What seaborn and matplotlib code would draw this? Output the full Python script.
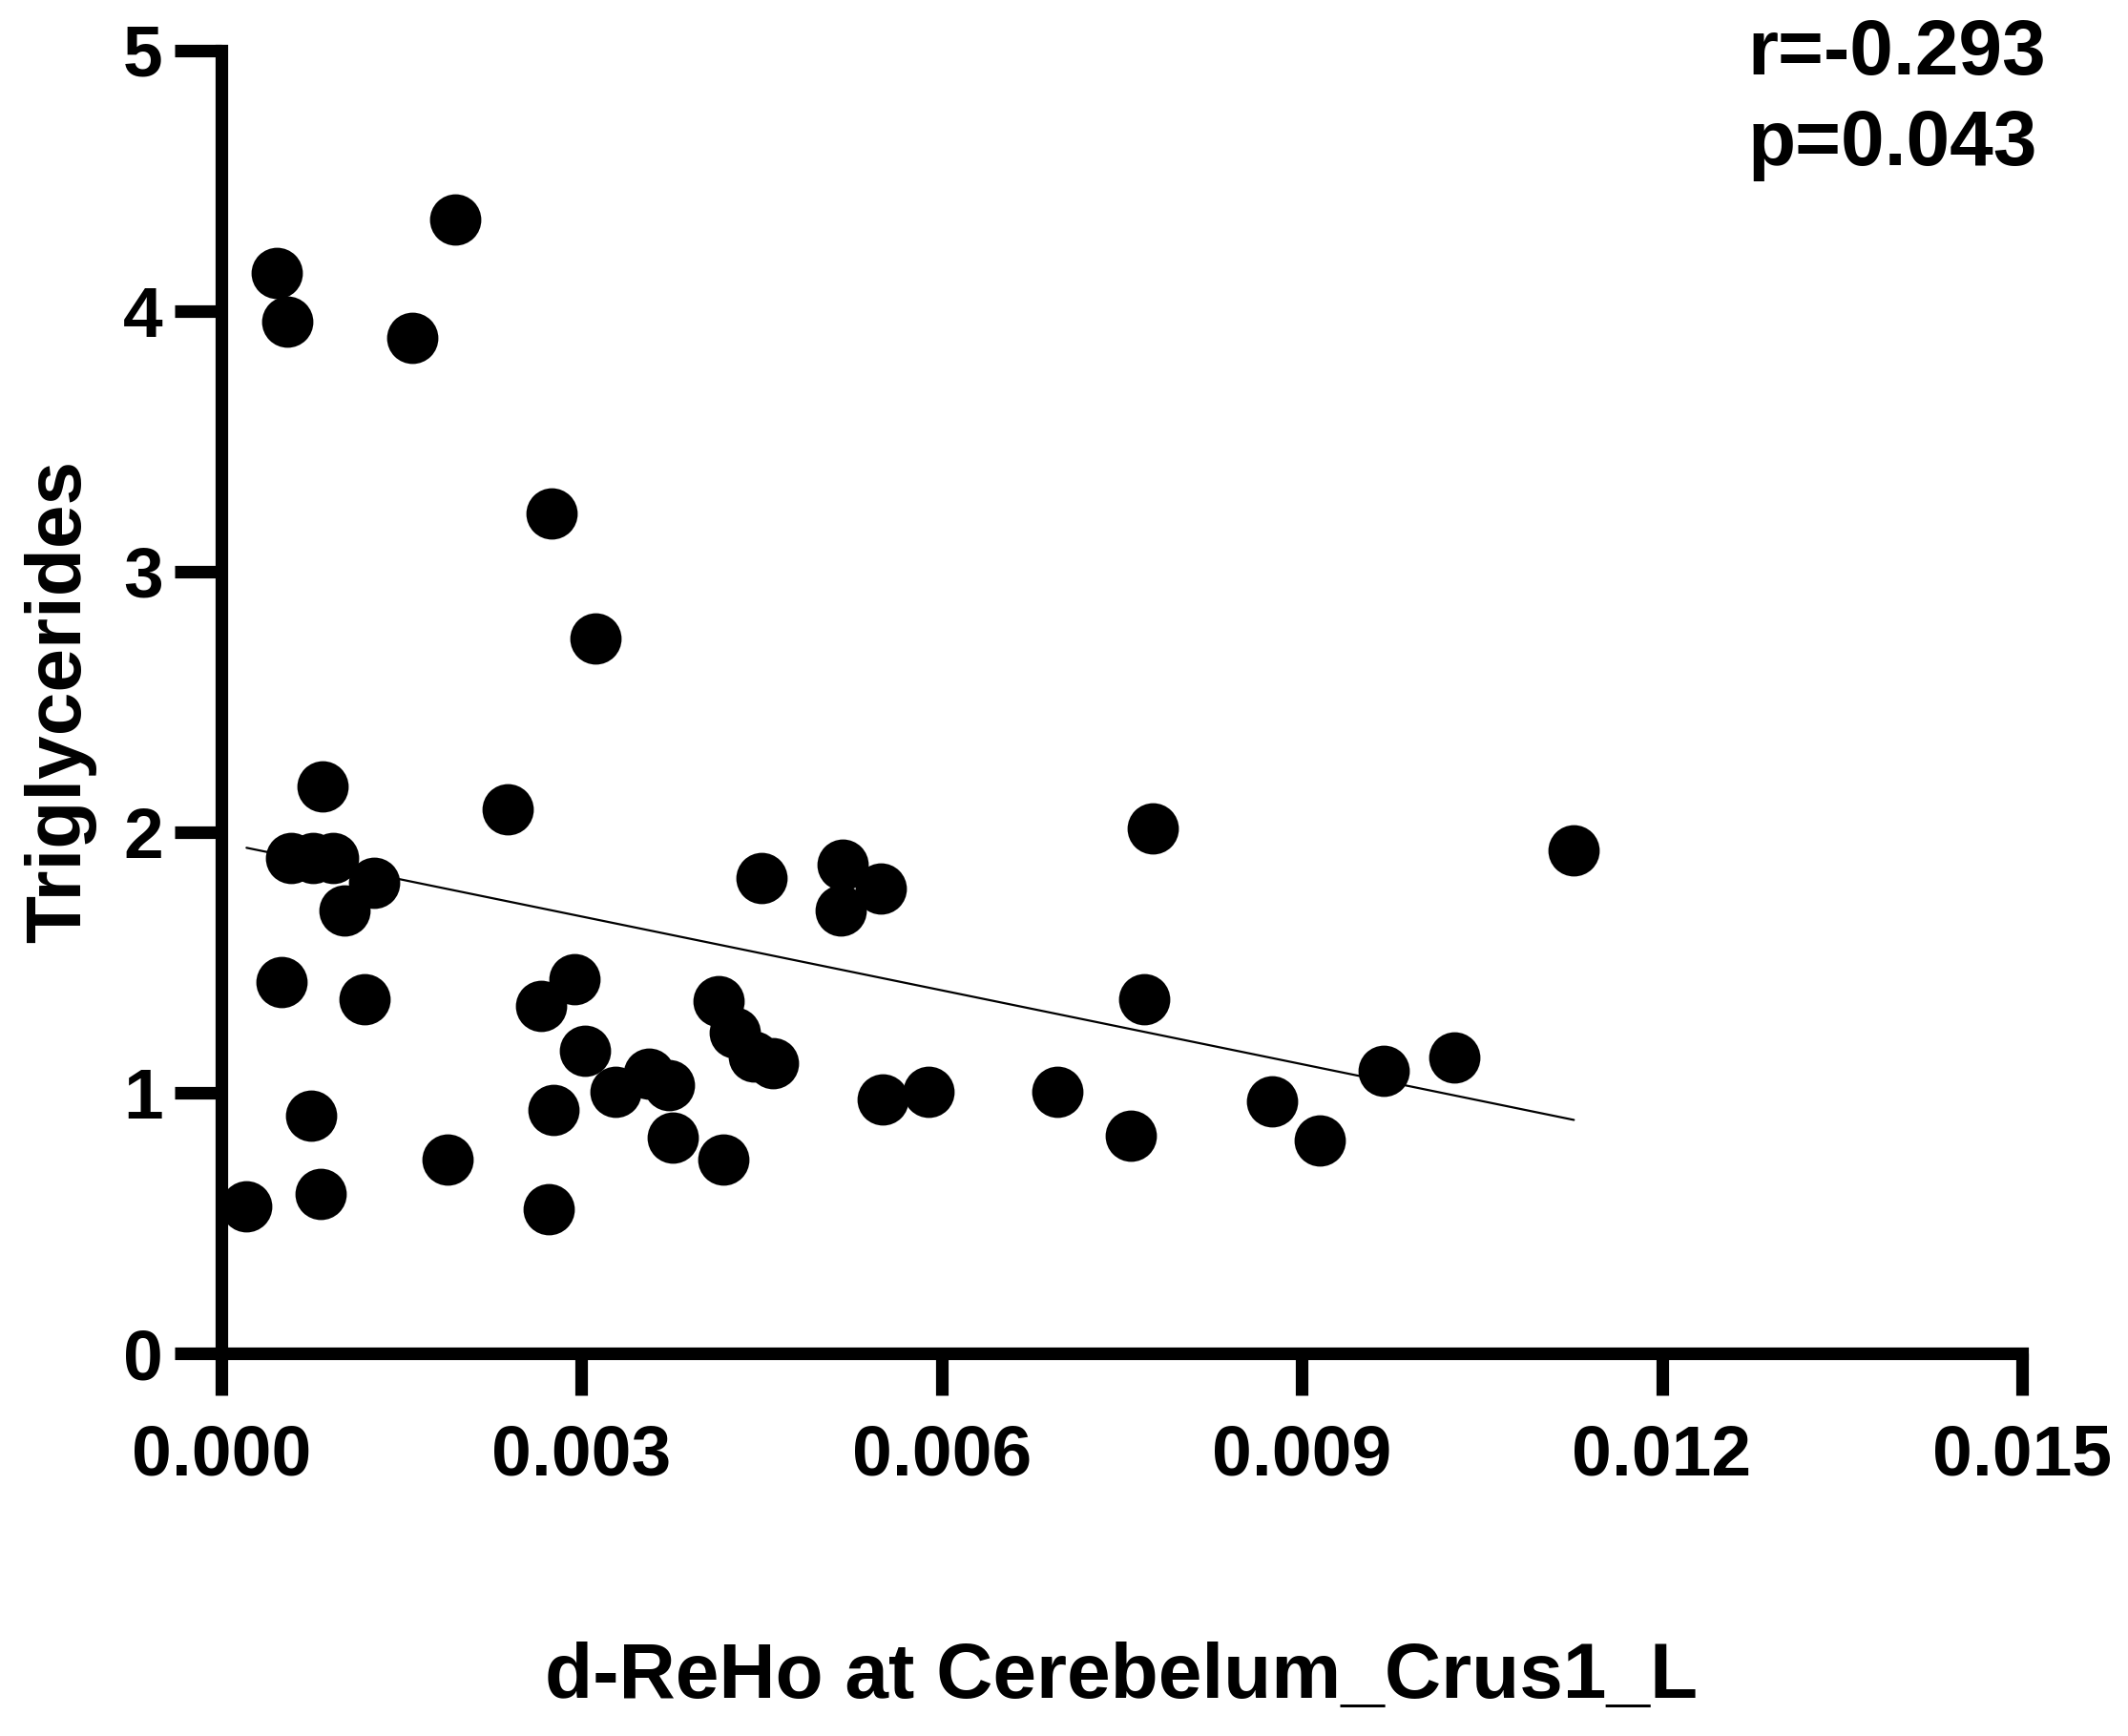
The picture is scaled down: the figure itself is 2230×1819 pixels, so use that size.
import numpy as np
import pandas as pd
import matplotlib
matplotlib.use("Agg")
import matplotlib.pyplot as plt
import seaborn as sns

sns.set_style("ticks")
plt.rcParams['font.family'] = ['Liberation Sans', 'DejaVu Sans']
plt.rcParams['text.color'] = 'black'
plt.rcParams['axes.labelcolor'] = 'black'

# d-ReHo values
dreho = [0.000461, 0.000546, 0.001947, 0.001591, 0.00275, 0.003117, 0.00084, 0.002383,
         0.000578, 0.00076, 0.000927, 0.00103, 0.00127, 0.0005, 0.00119, 0.000745,
         0.000826, 0.00021, 0.001885, 0.00273, 0.00277, 0.00266, 0.00294, 0.00303,
         0.00328, 0.00356, 0.00373, 0.00376, 0.00418, 0.004145, 0.004277, 0.004435,
         0.004594, 0.0045, 0.005177, 0.005494, 0.005163, 0.005506, 0.005889, 0.006965,
         0.00776, 0.00769, 0.00758, 0.008755, 0.00915, 0.009685, 0.010267, 0.011267]
# triglycerides
tg = [4.146, 3.959, 4.352, 3.895, 3.222, 2.745, 2.176, 2.087,
      1.90, 1.90, 1.90, 1.70, 1.807, 1.424, 1.36, 0.913,
      0.612, 0.563, 0.742, 0.553, 0.935, 1.334, 1.435, 1.163,
      1.003, 1.075, 1.03, 0.829, 0.744, 1.352, 1.23, 1.139,
      1.114, 1.825, 1.876, 1.785, 1.70, 0.975, 1.005, 1.005,
      2.013, 1.36, 0.835, 0.966, 0.816, 1.084, 1.136, 1.932]

x_ticks = [0.000, 0.003, 0.006, 0.009, 0.012, 0.015]
x_ticklabels = ["0.000", "0.003", "0.006", "0.009", "0.012", "0.015"]
y_ticks = [0, 1, 2, 3, 4, 5]

df = pd.DataFrame({"dreho": dreho, "tg": tg})

fig = plt.figure(figsize=(22.3, 18.19), dpi=100)
fig.subplots_adjust(left=0.1040, right=0.9502, bottom=0.2204, top=0.971)
ax = fig.add_subplot(111)

sns.regplot(data=df, x="dreho", y="tg", ci=None, ax=ax,
            scatter_kws=dict(s=1500, color="black", linewidths=0, alpha=1),
            line_kws=dict(color="black", lw=1.6))

ax.set_xlim(0, 0.015)
ax.set_ylim(0, 5)
ax.set_xticks(x_ticks)
ax.set_xticklabels(x_ticklabels)
ax.set_yticks(y_ticks)

sns.despine(ax=ax)
for side in ["left", "bottom"]:
    ax.spines[side].set_linewidth(9.5)
    ax.spines[side].set_color("black")
    ax.spines[side].set_capstyle("projecting")
ax.tick_params(axis="both", direction="out", width=9.5, color="black",
               labelsize=54, labelcolor="black")
ax.tick_params(axis="x", length=32, pad=21)
ax.tick_params(axis="y", length=35, pad=9)
for lab in ax.get_xticklabels() + ax.get_yticklabels():
    lab.set_fontweight("bold")

ax.set_xlabel("d-ReHo at Cerebelum_Crus1_L", fontsize=59, fontweight="bold", va="baseline")
ax.set_ylabel("Triglycerides", fontsize=59, fontweight="bold", va="baseline")
ax.xaxis.set_label_coords(0.5, -0.264)
ax.yaxis.set_label_coords(-0.0785, 0.5)

fig.text(0.8214, 0.957, "r=-0.293", fontsize=59, fontweight="bold", ha="left", va="baseline")
fig.text(0.8214, 0.9049, "p=0.043", fontsize=59, fontweight="bold", ha="left", va="baseline")

fig.savefig("out.png", dpi=100, facecolor="white")
